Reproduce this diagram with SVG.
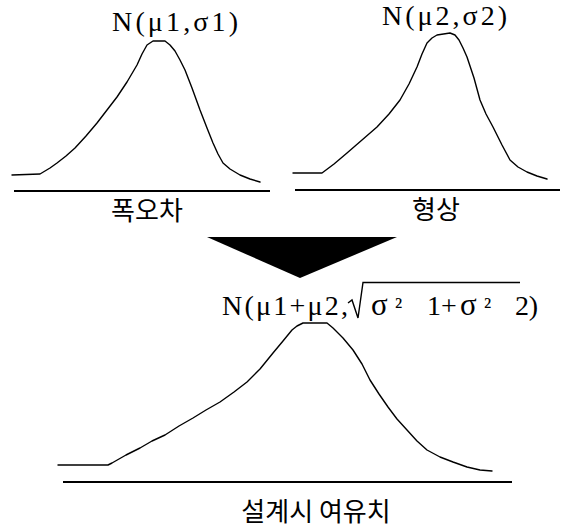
<svg xmlns="http://www.w3.org/2000/svg" width="564" height="527" viewBox="0 0 564 527">
<style>
.curve{fill:none;stroke:#000;stroke-width:1.4;stroke-linejoin:round;stroke-linecap:round}
.axis{stroke:#000;stroke-width:2}
.math{font-family:"Liberation Serif","Times New Roman",serif;font-size:28px;fill:#000}
.sig{font-size:31px}
.sup{font-size:24px}
.kr{font-family:"Noto Sans CJK KR","Noto Sans",sans-serif;font-size:26px;fill:#000;text-anchor:middle}
</style>
<rect width="564" height="527" fill="#fff"/>
<g id="dist1">
<text class="math" x="112" y="31" textLength="126" lengthAdjust="spacing">N(μ1,σ1)</text>
<path class="curve" d="M12,175 L40,174 L50,168 L57,163 L66,156 L75,148 L86,136 L97,123 L107,110 L117,97 L127,82 L137,65 L142,54 L147,45 L153,41 L165,41 L170,45 L175,51 L180,60 L185,70 L192,88 L200,110 L207,128 L213,143 L218,154 L223,163 L230,169 L240,175 L250,179 L260,182"/>
<line class="axis" x1="14" y1="191" x2="270" y2="191"/>
<text class="kr" x="147" y="220">폭오차</text>
</g>
<g id="dist2">
<text class="math" x="382" y="25" textLength="125" lengthAdjust="spacing">N(μ2,σ2)</text>
<path class="curve" d="M293,173 L322,173 L334,164 L347,153 L362,140 L377,127 L389,114 L400,100 L409,84 L417,67 L422,54 L427,43 L432,38 L437,35 L450,33 L455,35 L459,40 L463,48 L467,57 L474,78 L480,100 L486,114 L493,127 L502,145 L510,160 L518,167 L527,172 L537,176 L547,179"/>
<line class="axis" x1="295" y1="190" x2="560" y2="190"/>
<text class="kr" x="436" y="219">형상</text>
</g>
<g id="connectors">
<polygon points="207,237 397,237 300,278" fill="#000"/>
</g>
<g id="result">
<text class="math" x="222" y="315" textLength="126" lengthAdjust="spacing">N(μ1+μ2,</text>
<path d="M348,303 L352,300 L358,318 L363,282.5 L520,282.5" fill="none" stroke="#000" stroke-width="1.4" stroke-linejoin="miter"/>
<text class="math sig" x="371" y="315">σ</text>
<text class="math sup" x="395" y="315">²</text>
<text class="math" x="427" y="315">1+</text>
<text class="math sig" x="460" y="315">σ</text>
<text class="math sup" x="484" y="315">²</text>
<text class="math" x="515" y="315" textLength="23" lengthAdjust="spacing">2)</text>
<path class="curve" d="M58,465 L108,465 L112,463 L126,455 L140,448 L152,441 L165,435 L179,426 L193,418 L206,410 L220,402 L234,392 L247,382 L260,369 L273,353 L283,341 L292,330 L297,326 L303,323 L327,323 L333,328 L343,338 L353,350 L362,364 L370,380 L379,394 L388,407 L397,419 L407,430 L417,441 L427,450 L440,457 L453,462 L467,467 L480,470 L492,471"/>
<line class="axis" x1="63" y1="482" x2="512" y2="482"/>
<text class="kr" x="316" y="521">설계시 여유치</text>
</g>
</svg>
